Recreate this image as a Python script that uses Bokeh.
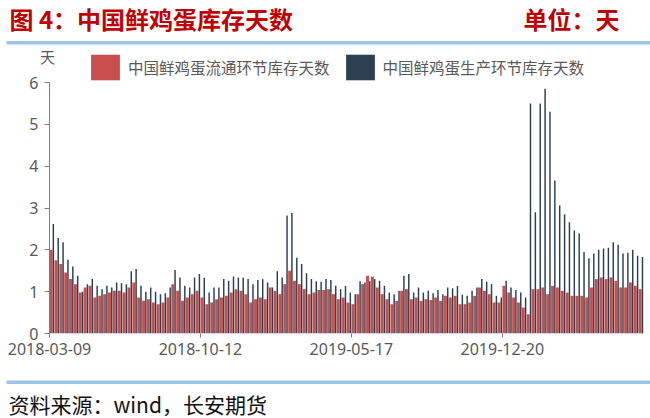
from bokeh.plotting import figure
from bokeh.models import (Range1d, FixedTicker, Label, Legend, LegendItem,
                          ColumnDataSource, BoxAnnotation, LinearAxis)
from bokeh.embed import file_html
from bokeh.resources import INLINE
import pandas as pd

# ---------------- data ----------------
weeks = [d.strftime("%Y-%m-%d") for d in pd.date_range("2018-03-09", periods=122, freq="7D")]
tick_labels = ["2018-03-09", "2018-10-12", "2019-05-17", "2019-12-20"]
y_ticks = [0, 1, 2, 3, 4, 5, 6]
series_names = ["中国鲜鸡蛋流通环节库存天数", "中国鲜鸡蛋生产环节库存天数"]

circulation = [
    2.0, 1.75, 1.66, 1.46, 1.3, 1.18, 0.98, 1.1, 1.14, 0.86,
    0.9, 0.94, 0.98, 1.02, 1.02, 0.98, 1.1, 1.22, 0.86, 0.78,
    0.82, 0.74, 0.7, 0.74, 0.86, 1.18, 1.02, 0.78, 0.86, 0.94,
    1.02, 0.86, 0.7, 0.74, 0.82, 0.86, 0.9, 0.98, 1.06, 1.02,
    0.94, 0.74, 0.82, 0.86, 0.82, 1.1, 1.02, 0.94, 1.18, 1.5,
    1.26, 1.18, 1.06, 0.94, 0.98, 1.04, 1.04, 1.06, 0.94, 0.82,
    0.86, 0.74, 0.7, 0.94, 1.18, 1.38, 1.36, 1.1, 0.94, 0.82,
    0.7, 0.78, 1.02, 1.06, 0.82, 0.86, 0.78, 0.82, 0.8, 0.86,
    0.78, 0.9, 0.86, 0.9, 0.7, 0.7, 0.74, 0.9, 1.1, 1.02,
    0.94, 0.74, 0.74, 1.14, 0.98, 0.86, 0.74, 0.62, 0.46, 1.06,
    1.06, 1.1, 0.94, 1.14, 1.1, 1.02, 0.98, 0.9, 0.9, 0.9,
    0.86, 1.1, 1.3, 1.34, 1.3, 1.34, 1.26, 1.1, 1.1, 1.22,
    1.14, 1.06,
]
production = [
    2.62, 2.28, 2.18, 1.76, 1.6, 1.38, 1.0, 1.18, 1.3, 1.14,
    1.06, 1.14, 1.1, 1.22, 1.2, 1.18, 1.49, 1.54, 1.14, 1.0,
    1.1, 1.0, 0.94, 0.96, 1.1, 1.52, 1.34, 1.14, 1.1, 1.34,
    1.42, 1.33, 0.98, 1.1, 1.1, 1.3, 1.26, 1.36, 1.34, 1.33,
    1.3, 1.18, 1.28, 1.3, 1.22, 1.1, 1.49, 1.34, 2.82, 2.88,
    1.81, 1.66, 1.44, 1.3, 1.25, 1.24, 1.3, 1.28, 1.14, 1.06,
    1.14, 0.98, 0.94, 1.25, 1.22, 1.25, 1.3, 1.26, 1.14, 0.98,
    0.94, 1.02, 1.38, 1.42, 0.98, 1.1, 0.98, 1.02, 0.96, 1.04,
    0.94, 1.1, 1.08, 1.14, 0.93, 0.9, 1.02, 1.1, 1.3, 1.24,
    1.18, 0.9, 0.86, 1.26, 1.1, 1.04, 0.98, 0.86, 5.5, 2.9,
    5.5, 5.85, 5.3, 3.66, 3.06, 2.85, 2.66, 2.46, 2.39, 1.95,
    1.8, 1.91, 2.0, 2.03, 2.05, 2.18, 2.12, 1.91, 1.93, 2.0,
    1.86, 1.83,
]

# ---------------- layout / style ----------------
W, H = 650, 418
CJK = "Noto Sans CJK SC"
LAT = "Noto Sans"
RED = "#c94f4f"
DARK = "#2c4052"
TXT = "#595959"
BLUE = "#9dc3e6"

n = len(weeks)
# plot area in canvas pixels: x=0 at 49, x=n at 643; y=0 at 333, y=6 at 82
PX0, PX1 = 49.0, 643.0
PY0, PY6 = 333.0, 82.0
sx = (PX1 - PX0) / n
sy = (PY0 - PY6) / 6.0
x_range = Range1d(-PX0 / sx, n + (W - PX1) / sx)
y_range = Range1d(-(H - PY0) / sy, PY0 / sy)

idx = list(range(n))
src = ColumnDataSource(dict(
    xr=[i + 0.32 for i in idx],
    xd=[i + 0.79 for i in idx],
    circ=circulation,
    prod=production,
    week=weeks,
))

p = figure(width=W, height=H, x_range=x_range, y_range=y_range,
           output_backend="svg", toolbar_location=None,
           x_axis_location=None, y_axis_location=None, min_border=0)
p.grid.visible = False
p.outline_line_color = None
p.background_fill_color = "white"
p.border_fill_color = "white"

r1 = p.vbar(x="xr", top="circ", width=0.6, source=src, fill_color=RED, line_color=None)
r2 = p.vbar(x="xd", top="prod", width=0.3, source=src, fill_color=DARK, line_color=None)

tick_pos = [weeks.index(t) for t in tick_labels]
xaxis = LinearAxis(fixed_location=0, bounds=(0, n),
                   ticker=FixedTicker(ticks=tick_pos),
                   major_label_overrides={pos: lab for pos, lab in zip(tick_pos, tick_labels)},
                   axis_line_color="#cfd6de", axis_line_width=1,
                   major_tick_line_color="#7f7f7f", major_tick_out=4, major_tick_in=0,
                   minor_tick_line_color=None,
                   major_label_text_font=LAT, major_label_text_font_size="16px",
                   major_label_text_color=TXT, major_label_standoff=5)
p.add_layout(xaxis, "below")

yaxis = LinearAxis(fixed_location=0, bounds=(0, 6),
                   ticker=FixedTicker(ticks=y_ticks),
                   axis_line_color="#7f7f7f", axis_line_width=1,
                   major_tick_line_color="#7f7f7f", major_tick_out=5, major_tick_in=0,
                   minor_tick_line_color=None,
                   major_label_text_font=LAT, major_label_text_font_size="16px",
                   major_label_text_color=TXT, major_label_standoff=6)
p.add_layout(yaxis, "left")


# texts in canvas pixels (x from left, y measured from the top)
def lab(x, ytop, text, **kw):
    p.add_layout(Label(x=x, y=H - ytop, x_units="screen", y_units="screen", text=text, **kw))


lab(9, 18, "图 4：中国鲜鸡蛋库存天数", text_font=CJK, text_font_size="24px",
    text_font_style="bold", text_color="#c00000", text_align="left", text_baseline="middle")
lab(619, 18, "单位：天", text_font=CJK, text_font_size="24px",
    text_font_style="bold", text_color="#c00000", text_align="right", text_baseline="middle")
lab(47, 56, "天", text_font=CJK, text_font_size="15px", text_color=TXT,
    text_align="center", text_baseline="middle")
lab(8, 403, "资料来源：wind，长安期货", text_font=CJK, text_font_size="21px",
    text_color="#111111", text_align="left", text_baseline="middle")

for ytop, ybot in [(40.5, 44.0), (380.0, 383.5)]:
    p.add_layout(BoxAnnotation(left=6, right=W, bottom=H - ybot, top=H - ytop,
                               left_units="screen", right_units="screen",
                               bottom_units="screen", top_units="screen",
                               fill_color=BLUE, fill_alpha=1.0, line_color=None))

legend = Legend(items=[LegendItem(label=series_names[0], renderers=[r1]),
                       LegendItem(label=series_names[1], renderers=[r2])],
                orientation="horizontal", location=(87, H - 83),
                glyph_width=36, glyph_height=32, label_height=32, label_standoff=5,
                spacing=12, padding=0, margin=0, border_line_color=None,
                background_fill_alpha=0, label_text_font=CJK,
                label_text_font_size="15.5px", label_text_color=TXT)
p.add_layout(legend)

open("out.html", "w").write(file_html(p, INLINE))
